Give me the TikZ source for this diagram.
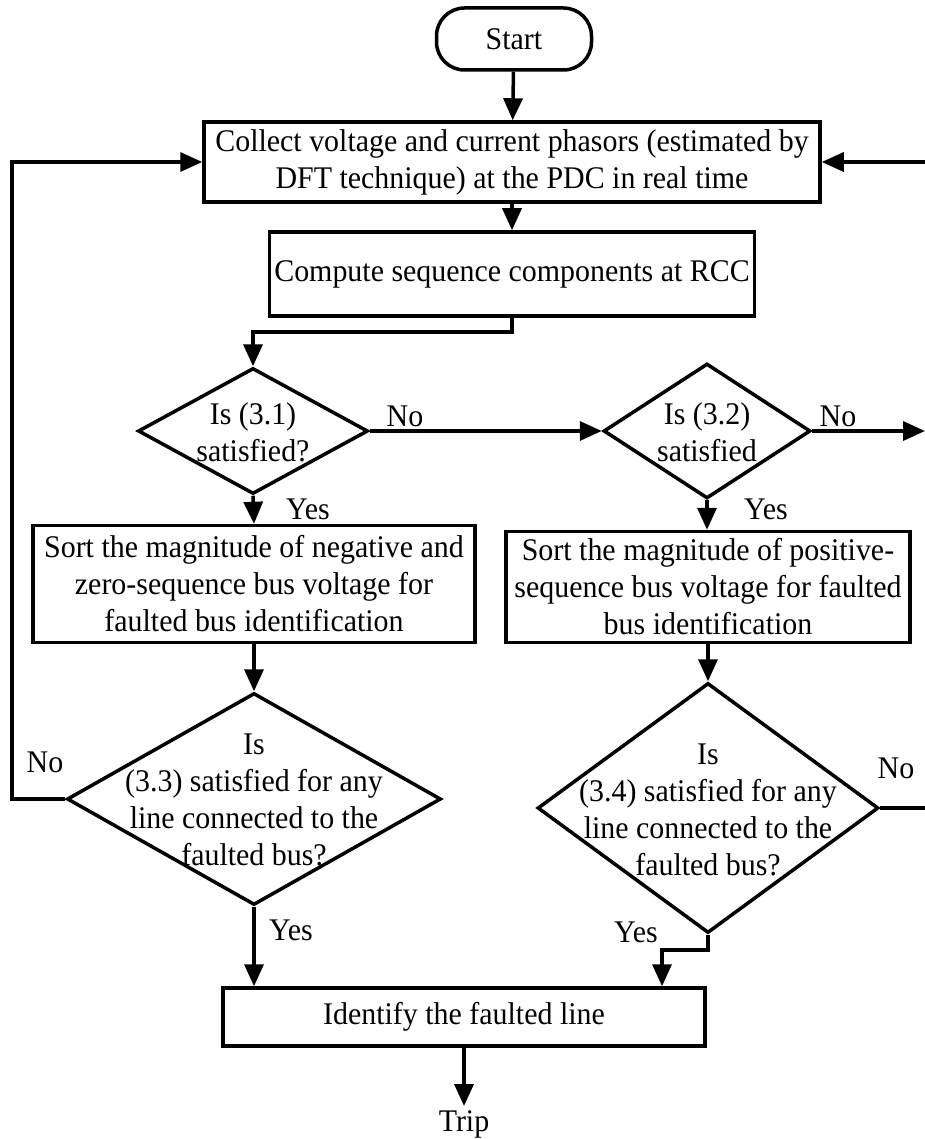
\documentclass[tikz,border=0pt]{standalone}
\usepackage{fontspec}
\setmainfont[FakeStretch=0.95]{Liberation Serif}
\usetikzlibrary{shapes.geometric,arrows.meta}
\begin{document}
\begin{tikzpicture}[x=1pt,y=-1pt,
  every node/.style={font=\fontsize{31.5}{37}\selectfont},
  box/.style={draw,line width=3.5pt,inner sep=0pt,align=center},
  dia/.style={draw,diamond,line width=3.5pt,inner sep=0pt},
  lab/.style={inner sep=0pt},
  conn/.style={line width=3.5pt,-{Triangle[length=22pt,width=19pt]}},
  plain/.style={line width=3.5pt}]
\useasboundingbox (0,0) rectangle (925,1139);
\node[box,rounded corners=28pt,minimum width=155pt,minimum height=62pt] (start) at (514,39) {Start};
\node[box,minimum width=616pt,minimum height=80pt] (collect) at (512,162) {Collect voltage and current phasors (estimated by\\DFT technique) at the PDC in real time};
\node[box,minimum width=485pt,minimum height=84pt] (compute) at (512,274) {Compute sequence components at RCC};
\node[dia,minimum width=230pt,minimum height=126pt] (d1) at (253,431) {};
\node[lab,align=center] (t1) at (253,432) {Is (3.1)\\satisfied?};
\node[dia,minimum width=207pt,minimum height=135pt] (d2) at (707,431) {};
\node[lab,align=center] (t2) at (707,432) {Is (3.2)\\satisfied};
\node[box,minimum width=442pt,minimum height=117pt] (s1) at (254,584) {Sort the magnitude of negative and\\zero-sequence bus voltage for\\faulted bus identification};
\node[box,minimum width=404pt,minimum height=111pt] (s2) at (708,587) {Sort the magnitude of positive-\\sequence bus voltage for faulted\\bus identification};
\node[dia,minimum width=374pt,minimum height=212pt] (d3) at (254,799) {};
\node[lab,align=center] (t3) at (254,800) {Is\\(3.3) satisfied for any\\line connected to the\\faulted bus?};
\node[dia,minimum width=341pt,minimum height=250pt] (d4) at (708,808) {};
\node[lab,align=center] (t4) at (708,810) {Is\\(3.4) satisfied for any\\line connected to the\\faulted bus?};
\node[box,minimum width=482pt,minimum height=58pt] (ident) at (464,1017) {Identify the faulted line};
\node[lab] (trip) at (464,1124) {Trip};
\coordinate (lft) at (12,0);
\coordinate (redge1) at (925,162);
\coordinate (redge2) at (925,431);
\coordinate (redge3) at (925,808);
% connectors
\draw[conn] (start) -- (collect);
\draw[conn] (collect) -- (compute);
\draw[conn] (compute.south) -- ++(0,14) -| (d1.north);
\draw[conn] (d1.east) -- (d2.west);
\draw[conn] (d2.east) -- (redge2);
\draw[conn] (d1.south) -- (s1.north);
\draw[conn] (d2.south) -- (d2.south |- s2.north);
\draw[conn] (s1.south) -- (d3.north);
\draw[conn] (s2.south) -- (d4.north);
\draw[conn] (d3.west) -| (lft |- collect.west) -- (collect.west);
\draw[conn] (redge1) -- (collect.east);
\draw[plain] (d4.east) -- (redge3);
\draw[conn] (d3.south) -- (d3.south |- ident.north);
\draw[conn] (d4.south) -- ++(0,15) -| ([xshift=-46pt]d4.south |- ident.north);
\draw[conn] (ident.south) -- ([yshift=4pt]trip.north);
% labels
\node[lab] (no1) at (405,416) {No};
\node[lab] (no2) at (838,416) {No};
\node[lab] (yes1) at (308,509) {Yes};
\node[lab] (yes2) at (766,509) {Yes};
\node[lab] (no3) at (45,762) {No};
\node[lab] (no4) at (896,768) {No};
\node[lab] (yes3) at (291,930) {Yes};
\node[lab] (yes4) at (636,932) {Yes};
\end{tikzpicture}
\end{document}
